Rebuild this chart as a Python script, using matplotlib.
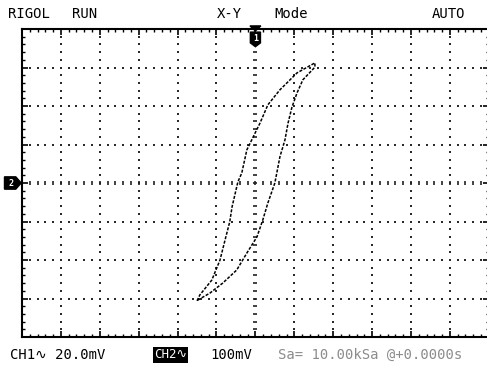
import numpy as np
import matplotlib.pyplot as plt
from matplotlib.patches import Polygon

# X-Y trace, in screen divisions (CH1 horizontal, CH2 vertical)
rise_x = [-1.50, -1.43, -1.12, -0.91, -0.78, -0.66, -0.60, -0.45, -0.35, -0.22,
          -0.06, 0.12, 0.32, 0.63, 1.07, 1.53]
rise_y = [-3.06, -2.91, -2.52, -2.00, -1.48, -1.01, -0.62, 0.03, 0.26, 0.86,
          1.19, 1.56, 2.03, 2.42, 2.86, 3.12]
fall_x = [1.53, 1.22, 1.07, 0.94, 0.84, 0.76, 0.63, 0.55, 0.50, 0.32, 0.19,
          0.04, -0.22, -0.48, -0.84, -1.17, -1.48]
fall_y = [3.01, 2.68, 2.34, 1.97, 1.56, 1.12, 0.68, 0.26, 0.00, -0.52, -0.96,
          -1.40, -1.82, -2.26, -2.60, -2.86, -3.04]

header = ["RIGOL", "RUN", "X-Y", "Mode", "AUTO"]
header_x = [8, 72, 217, 274, 432]

W, H = 487, 367
MONO = ["DejaVu Sans Mono", "DejaVu Sans"]


def px(x, y):
    return x / W, 1 - y / H


def draw_grid(ax):
    minor_x = np.round(np.arange(-6, 6.01, 0.2), 2)
    minor_y = np.round(np.arange(-4, 4.01, 0.2), 2)
    dot = dict(marker='s', s=1.2, color='#2a2a2a', linewidths=0, zorder=2)
    for gx in range(-5, 6):
        if gx == 0:
            continue
        ax.scatter(np.full(len(minor_y), gx), minor_y, **dot)
    for gy in range(-3, 4):
        if gy == 0:
            continue
        ax.scatter(minor_x, np.full(len(minor_x), gy), **dot)
    # centre lines carry short dashes instead of dots
    ax.scatter(minor_x, np.zeros(len(minor_x)), marker='|', s=10,
               color='#222222', linewidths=1.2, zorder=2)
    ax.scatter(np.zeros(len(minor_y)), minor_y, marker='_', s=12,
               color='#222222', linewidths=1.2, zorder=2)


def draw_markers(ax):
    # channel 1 position marker (top) and channel 2 marker (left)
    tri = Polygon([[-0.14, 4.08], [0.14, 4.08], [0, 3.95]], closed=True,
                  color='black', clip_on=False, zorder=5)
    ax.add_patch(tri)
    shield = Polygon([[-0.13, 3.92], [0.13, 3.92], [0.13, 3.64], [0, 3.54],
                      [-0.13, 3.64]], closed=True, color='black',
                     clip_on=False, zorder=5)
    ax.add_patch(shield)
    ax.text(0, 3.75, "1", color='white', fontsize=6, fontweight='bold',
            ha='center', va='center', family=MONO, zorder=6)
    tag = Polygon([[-6.45, 0.16], [-6.16, 0.16], [-6.02, 0.0], [-6.16, -0.16],
                   [-6.45, -0.16]], closed=True, color='black',
                  clip_on=False, zorder=5)
    ax.add_patch(tag)
    ax.text(-6.27, 0.0, "2", color='white', fontsize=6, fontweight='bold',
            ha='center', va='center', family=MONO, zorder=6, clip_on=False)


def main():
    fig = plt.figure(figsize=(W / 100, H / 100), dpi=100)
    fig.patch.set_facecolor('white')
    left, top, bottom = 22, 29, 337
    right = left + 12 * 38.9
    ax = fig.add_axes([left / W, 1 - bottom / H, (right - left) / W,
                       (bottom - top) / H])
    ax.set_xlim(-6, 6)
    ax.set_ylim(-4, 4)

    for sp in ax.spines.values():
        sp.set_linewidth(1.5)
    ax.set_xticks(np.arange(-6, 7, 1))
    ax.set_yticks(np.arange(-4, 5, 1))
    ax.set_xticks(np.arange(-6, 6.01, 0.2), minor=True)
    ax.set_yticks(np.arange(-4, 4.01, 0.2), minor=True)
    ax.tick_params(which='both', direction='in', top=True, right=True,
                   labelbottom=False, labelleft=False, color='black')
    ax.tick_params(which='major', length=4, width=1.2)
    ax.tick_params(which='minor', length=2, width=1.0)

    draw_grid(ax)

    loop_x = rise_x + fall_x
    loop_y = rise_y + fall_y
    ax.plot(loop_x, loop_y, color='black', linewidth=1.1,
            linestyle=(0, (2, 1)), zorder=4)

    draw_markers(ax)

    for label, x in zip(header, header_x):
        fig.text(*px(x, 14), label, family=MONO, fontsize=10,
                 va='center', ha='left')

    fig.text(*px(10, 355), "CH1\u223f 20.0mV", family=MONO, fontsize=10,
             va='center', ha='left')
    fig.text(*px(154, 355), "CH2\u223f", family=MONO, fontsize=9,
             va='center', ha='left', color='white',
             bbox=dict(boxstyle='square,pad=0.1', fc='black', ec='none'))
    fig.text(*px(210, 355), "100mV", family=MONO, fontsize=10,
             va='center', ha='left')
    fig.text(*px(278, 355), "Sa= 10.00kSa @+0.0000s", family=MONO,
             fontsize=10, va='center', ha='left', color='#8c8c8c')

    plt.savefig('out.png', dpi=100)


if __name__ == "__main__":
    main()
